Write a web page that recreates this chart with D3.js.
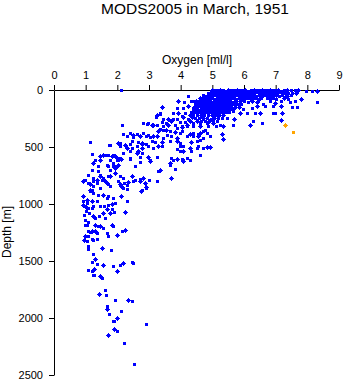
<!DOCTYPE html>
<html><head><meta charset="utf-8">
<script src="https://cdn.jsdelivr.net/npm/d3@7"></script>
<style>body{margin:0;background:#fff} svg{display:block} text{font-family:"Liberation Sans",Arial,Helvetica,sans-serif;fill:#000}</style>
</head><body><svg id="c" width="345" height="384"></svg>
<script>
const titleText = "MODS2005 in March, 1951";
const xLabel = "Oxygen [ml/l]";
const yLabel = "Depth [m]";
const oxygenTicks = [0,1,2,3,4,5,6,7,8,9];
const depthTicks = [0,500,1000,1500,2000,2500];

// [oxygen ml/l, depth m] – surface block
const blueSurface = [
[4.98,2],[5.07,4],[5.16,1],[5.25,3],[5.33,2],[5.42,5],[5.51,1],[5.6,3],[5.68,2],[5.77,4],[5.86,1],[5.95,3],[6.03,2],[6.12,5],[6.21,1],[6.3,3],[6.38,2],[6.47,4],[6.56,1],[6.65,3],[6.73,2],[6.82,4],[6.91,1],[7.0,3],[7.08,2],[7.17,5],[7.26,1],[7.35,3],[7.47,2],[7.6,4],[7.72,3],[7.95,5],[8.14,10],[8.3,10],[2.11,0],
[4.85,24],[4.93,26],[5.02,22],[5.11,25],[5.2,23],[5.28,27],[5.37,24],[5.46,22],[5.55,26],[5.63,24],[5.72,21],[5.81,25],[5.9,23],[5.98,27],[6.07,24],[6.16,22],[6.25,26],[6.33,24],[6.42,21],[6.51,25],[6.6,23],[6.68,27],[6.77,24],[6.86,22],[6.95,26],[7.03,24],[7.12,21],[7.21,25],[7.3,23],[7.4,27],[7.52,24],[7.63,22],
[4.72,48],[4.8,50],[4.9,46],[4.99,49],[5.08,47],[5.17,51],[5.25,48],[5.34,46],[5.43,50],[5.52,48],[5.6,45],[5.69,49],[5.78,47],[5.87,51],[5.95,48],[6.04,46],[6.13,50],[6.22,48],[6.3,45],[6.39,49],[6.48,47],[6.57,51],[6.65,48],[6.74,46],[6.83,50],[6.92,48],[7.0,45],[7.09,49],[7.2,47],[7.36,51],[7.48,48],[4.24,53],
[4.62,72],[4.7,74],[4.8,70],[4.88,73],[4.97,71],[5.06,75],[5.15,72],[5.23,70],[5.32,74],[5.41,72],[5.5,69],[5.58,73],[5.67,71],[5.76,75],[5.85,72],[5.93,70],[6.02,74],[6.11,72],[6.2,69],[6.28,73],[6.37,71],[6.46,75],[6.55,72],[6.72,74],[6.81,70],[6.9,73],[7.02,76],[7.25,72],[7.38,78],[7.6,94],[7.8,80],[8.3,106]
];

// upper layer 90–300 m
const blueUpper = [
[4.4,98],[4.49,100],[4.58,97],[4.67,99],[4.76,96],[4.85,100],[4.94,98],[5.03,101],[5.12,97],[5.21,99],[5.3,98],[5.39,100],[5.48,96],[5.57,99],[5.66,101],[5.76,97],[5.88,100],[6.0,98],[6.12,102],[6.24,97],
[4.45,124],[4.54,120],[4.63,122],[4.72,125],[4.81,121],[4.9,123],[4.99,120],[5.08,124],[5.17,122],[5.26,119],[5.35,123],[5.44,121],[5.53,125],[5.62,120],[5.71,123],[5.8,121],[5.92,124],
[4.42,146],[4.51,148],[4.6,144],[4.69,147],[4.78,145],[4.87,149],[4.96,144],[5.05,147],[5.14,146],[5.23,143],[5.32,148],[5.41,145],[5.5,147],[5.6,144],[5.72,148],[5.85,145],
[4.38,171],[4.47,168],[4.56,172],[4.65,169],[4.74,173],[4.83,168],[4.92,171],[5.01,169],[5.1,172],[5.19,170],[5.28,167],[5.37,172],[5.46,169],[5.55,171],[5.66,168],
[4.32,195],[4.42,192],[4.51,196],[4.6,193],[4.69,191],[4.78,196],[4.87,193],[4.97,195],[5.06,192],[5.15,197],[5.24,194],[5.33,191],[5.43,196],[5.54,193],
[4.28,219],[4.4,216],[4.52,220],[4.63,217],[4.75,222],[4.86,218],[4.98,215],[5.1,220],[5.22,217],[5.34,221],
[4.45,245],[4.58,248],[4.7,243],[4.82,247],[4.95,250],[5.05,244],[5.18,249],[5.3,246],
[4.5,272],[4.65,268],[4.78,274],[4.9,270],[5.02,276],[5.15,271],
[3.93,94],[4.09,106],[4.33,97],[6.4,109],[6.6,120],[6.82,100],[6.97,115],[7.18,100],[7.45,109],
[3.4,150],[3.87,158],[4.08,158],[4.22,144],[5.97,167],[6.24,158],[6.4,144],[6.66,138],[6.92,144],[7.18,144],[7.5,153],[7.66,153],
[3.24,217],[3.34,202],[3.76,202],[3.92,202],[4.13,202],[5.66,188],[5.87,202],[6.08,202],[6.34,202],[6.5,202],[6.92,202],[6.99,202],[7.2,202],
[3.22,237],[3.45,255],[3.61,255],[3.76,255],[3.89,255],[4.08,240],[4.24,255],[5.45,246],[5.69,255],
[2.8,290],[2.98,290],[3.13,305],[3.4,284],[3.55,290],[3.71,275],[3.97,284],[4.13,284],[4.29,275],[4.61,292],[4.82,290],[5.03,290],[5.24,305],[5.66,305],[6.19,305],[6.29,272],[6.57,290],[7.18,264],[2.16,308],
[2.93,296],[3.08,304],[3.24,310],[3.45,313],[3.61,304],[3.82,304],[4.03,313],[4.19,304],[4.4,290],[3.35,208],[4.35,237],[4.03,231]
];

// intermediate layer 300–800 m
const blueMiddle = [
[3.34,343],[3.55,348],[4.19,319],[4.4,319],[4.61,313],[4.87,319],[5.13,319],[5.34,319],[4.76,348],[3.87,334],[4.03,325],
[2.19,386],[2.4,378],[2.5,392],[2.61,383],[2.82,378],[3.29,357],[3.45,354],[3.66,363],[3.82,369],[4.03,357],[4.4,378],[4.61,378],[4.71,363],[4.82,378],[5.31,386],
[2.29,407],[2.5,413],[2.71,407],[2.92,407],[3.03,413],[3.24,407],[3.45,421],[3.71,407],[3.87,421],[4.19,407],[4.4,407],[4.55,407],[4.71,421],[4.92,407],[5.34,427],[4.61,436],
[2.98,392],[3.14,407],[3.56,392],[3.98,377],[4.29,383],[4.56,383],
[2.08,465],[2.24,480],[2.45,451],[2.66,460],[2.77,465],[2.92,471],[3.19,460],[3.4,460],[3.66,451],[3.97,465],[4.34,460],[4.5,451],
[2.4,471],[2.77,474],[3.08,450],[3.4,489],[3.87,450],[4.08,494],[4.56,494],[4.82,500],
[1.77,486],[2.08,495],[2.29,509],[2.45,509],[2.61,495],[2.77,509],[2.98,495],[3.13,509],[3.29,495],[3.97,489],[3.87,518],[4.29,509],[4.5,509],[4.71,509],[4.92,500],
[2.19,553],[2.4,538],[2.66,538],[2.77,553],[3.97,538],[4.08,538],[4.34,538],[4.61,574],[1.56,568],[1.66,574],[1.87,568],
[1.45,582],[1.77,612],[1.98,612],[2.13,606],[2.4,597],[2.71,588],[2.98,588],[3.24,588],[3.71,597],[3.87,606],[4.19,597],[4.08,612],
[1.93,582],[2.09,597],[2.4,605],[2.61,553],[3.03,611],[4.03,605],[3.66,640],
[1.66,655],[1.87,664],[2.03,655],[2.56,664],[2.71,635],[3.03,626],[3.66,655],[3.76,617],[4.08,626],[4.29,612],
[1.77,699],[1.92,685],[1.45,743],[3.29,714],[3.34,699],[3.82,693],
[1.56,772],[1.77,758],[2.08,758],[2.19,772],[2.45,758],[2.56,787],[2.71,781],[2.82,772],[3.01,787],[3.24,802],[3.71,772],
[1.13,460],[1.74,480],[2.03,465],[1.19,559],[1.29,612],[1.45,612],[1.57,568],[1.71,571],[1.82,576],[2.03,612],[1.71,670],[1.92,676],[1.19,705],[1.4,714],[1.45,758],
[1.08,743],[1.4,670],[1.24,641],[1.85,641],[1.98,597],[1.92,728],[1.71,758],[1.24,772],[1.35,787],[1.5,787],[0.98,787],[0.9,801]
];

// deep layer below 800 m
const blueDeep = [
[0.93,796],[1.24,796],[1.61,796],[2.03,796],[2.21,816],[2.34,810],[2.5,796],[2.71,802],[2.87,816],[3.24,802],[3.01,793],
[1.14,822],[1.24,845],[1.71,822],[2.13,845],[2.31,831],[2.92,860],[2.76,883],[1.66,816],[1.77,845],[2.08,822],[2.19,860],[2.29,869],[2.71,802],[2.77,875],[2.87,816],[2.92,851],
[1.71,927],[1.87,948],[2.13,927],[1.08,816],[1.35,816],[1.14,875],[1.22,904],[1.45,860],[1.56,918],
[1.19,875],[1.14,889],[0.93,927],[1.38,921],[1.71,927],[2.1,927],[0.93,977],[1.03,992],[1.19,977],[1.59,1015],[1.71,1006],[1.82,997],[1.93,992],[2.29,977],
[1.05,962],[1.35,977],[1.66,948],[0.93,1006],[1.19,1035],[1.45,1021],
[1.01,1027],[1.08,1035],[1.24,1021],[1.66,1044],[1.84,1044],[1.9,1070],[2.24,1070],[0.95,1094],[1.11,1079],[1.24,1103],[1.43,1103],[1.61,1123],[1.77,1079],
[1.01,1064],[1.29,1123],[1.56,1079],[0.98,1138],[1.05,1181],[1.45,1196],
[1.08,1161],[0.98,1187],[1.29,1181],[1.4,1196],[1.56,1211],[1.84,1181],[1.87,1196],[2.16,1240],[2.25,1225],[1.08,1240],[1.14,1246],[1.29,1240],[1.66,1255],[1.71,1284],
[1.19,1240],[1.08,1284],[1.35,1255],[1.98,1269],[1.03,1328],[1.24,1313],
[0.98,1284],[1.19,1307],[1.35,1307],[0.96,1319],[1.06,1371],[1.08,1395],[1.5,1386],[1.8,1401],[1.24,1439],[1.31,1483],[1.21,1509],[1.35,1526],[1.56,1535],[1.87,1547],[2.08,1535],[2.19,1518],[2.45,1509],[2.48,1521],
[2.0,1588],[1.08,1576],[1.21,1591],[1.27,1570],[1.24,1623],[1.27,1626],[1.46,1635],[1.5,1649],[1.61,1752],[1.43,1787],[1.64,1801],[1.94,1845],[2.34,1839],[2.46,1854],
[1.68,1898],[1.68,1921],[1.73,1965],[2.13,1936],[2.0,2000],[1.85,2029],[1.89,2023],[1.9,2094],[2.0,2114],[2.9,2053],[1.7,2149],[2.22,2219],[2.53,2403]
];

const orangeObs = [[7.3,304],[7.55,371]];

const svg = d3.select("#c");
const x = d3.scaleLinear().domain([0,9]).range([54,339]);
const y = d3.scaleLinear().domain([0,2500]).range([90,375]);

svg.append("text").attr("x",195).attr("y",14).attr("text-anchor","middle")
  .style("font-size","15.5px").text(titleText);
svg.append("text").attr("x",197).attr("y",64).attr("text-anchor","middle")
  .style("font-size","12px").text(xLabel);
svg.append("text").attr("transform","translate(10.5,232) rotate(-90)").attr("text-anchor","middle")
  .style("font-size","12px").text(yLabel);

const gx = svg.append("g").attr("transform","translate(0,90)")
  .call(d3.axisTop(x).tickValues(oxygenTicks).tickFormat(d3.format("d")).tickSize(5).tickSizeOuter(0).tickPadding(6));
const gy = svg.append("g").attr("transform","translate(54,0)")
  .call(d3.axisLeft(y).tickValues(depthTicks).tickFormat(d3.format("d")).tickSize(5).tickSizeOuter(0).tickPadding(6));
[gx,gy].forEach(g=>{
  g.selectAll("text").style("font-size","11px").attr("font-family",null);
  g.attr("font-family",null);
  g.selectAll("path,line").attr("stroke","#000");
});

function drawPts(data, color){
  const g = svg.append("g").attr("fill", color);
  data.forEach((d,i)=>{
    const cx = Math.round(x(d[0])), cy = Math.round(y(d[1]));
    g.append("rect").attr("x",cx-1).attr("y",cy-1).attr("width",3).attr("height",3);
    if(i%3===0){
      g.append("rect").attr("x",cx-2).attr("y",cy).attr("width",5).attr("height",1);
      g.append("rect").attr("x",cx).attr("y",cy-2).attr("width",1).attr("height",5);
    }
  });
}
const blueObs = [].concat(blueSurface, blueUpper, blueMiddle, blueDeep);
drawPts(blueObs, "#0000ff");
drawPts(orangeObs, "#ffa500");
</script></body></html>
